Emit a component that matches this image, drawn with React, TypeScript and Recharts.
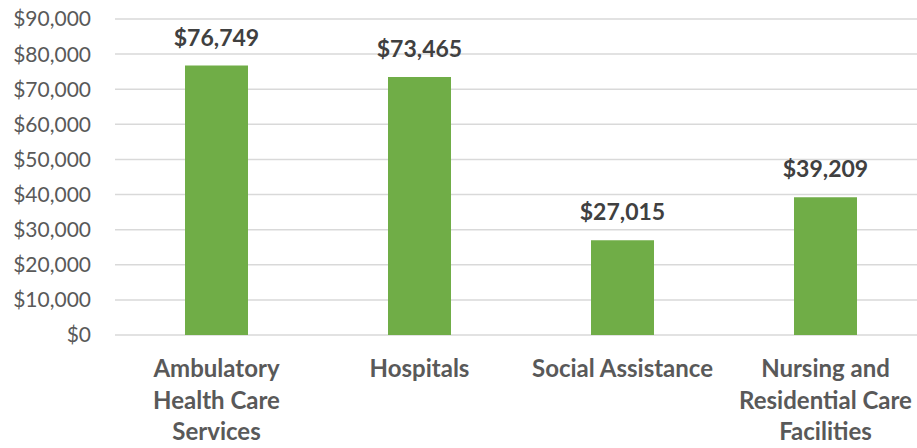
import React from "react";
import { BarChart, Bar, XAxis, YAxis, CartesianGrid, LabelList } from "recharts";

const categories = ["Ambulatory Health Care Services", "Hospitals", "Social Assistance", "Nursing and Residential Care Facilities"];
const categoryLines = [["Ambulatory", "Health Care", "Services"], ["Hospitals"], ["Social Assistance"], ["Nursing and", "Residential Care", "Facilities"]];
const values = [76749, 73465, 27015, 39209];
const yTicks = [0, 10000, 20000, 30000, 40000, 50000, 60000, 70000, 80000, 90000];

const data = categories.map((c, i) => ({ name: c, value: values[i], idx: i }));

const fmt = (v: number) => "$" + v.toLocaleString("en-US");
const FONT = "Lato, 'Open Sans', sans-serif";

const XTick = (props: any) => {
  const { x, y, payload } = props;
  const lines = categoryLines[payload.index] || [payload.value];
  return (
    <g transform={`translate(${x},${y})`}>
      {lines.map((l: string, i: number) => (
        <text key={i} x={0} y={i * 31.5} dy={34} textAnchor="middle" fill="#595959" fontFamily={FONT} fontWeight={700} fontSize={24}>
          {l}
        </text>
      ))}
    </g>
  );
};

export default function App() {
  return (
    <div style={{ position: "absolute", left: 0, top: 0, width: 917, height: 448, overflow: "hidden", background: "#fff" }}>
      <BarChart width={927} height={448} data={data} margin={{ top: 19, right: 0, bottom: 0, left: 0 }}>
        <CartesianGrid vertical={false} stroke="#D9D9D9" strokeWidth={1.5} />
        <XAxis dataKey="name" axisLine={false} tickLine={false} height={113} tick={<XTick />} interval={0} />
        <YAxis
          domain={[0, 90000]}
          ticks={yTicks}
          width={115}
          axisLine={false}
          tickLine={false}
          tickSize={0}
          tickMargin={24}
          tickFormatter={fmt}
          tick={{ fill: "#595959", fontFamily: FONT, fontSize: 21 }}
        />
        <Bar dataKey="value" fill="#70AD47" barSize={63} isAnimationActive={false}>
          <LabelList dataKey="value" position="top" offset={20} formatter={(v: any) => fmt(Number(v))} fill="#404040" fontFamily={FONT} fontWeight={700} fontSize={23} />
        </Bar>
      </BarChart>
    </div>
  );
}
